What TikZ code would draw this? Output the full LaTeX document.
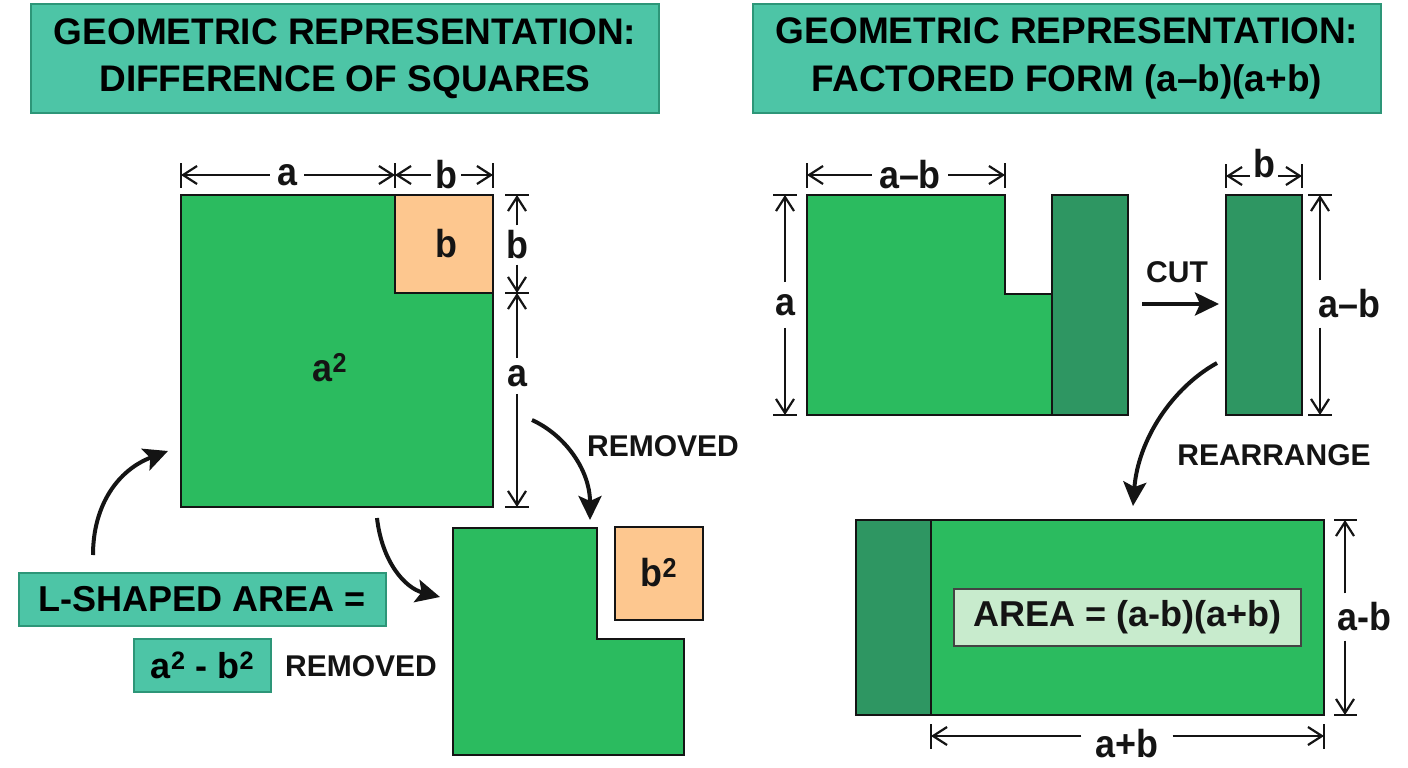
\documentclass[tikz,border=0pt]{standalone}
\usepackage{fontspec}
\setmainfont{Liberation Sans}
\newfontfamily\lblfont[FakeStretch=0.92]{Liberation Sans}
\usetikzlibrary{arrows.meta}
\definecolor{tealbox}{RGB}{77,197,166}
\definecolor{tealdark}{RGB}{45,150,120}
\definecolor{grn}{RGB}{43,187,95}
\definecolor{dgrn}{RGB}{46,150,98}
\definecolor{orng}{RGB}{253,199,143}
\definecolor{lgrn}{RGB}{200,235,205}
\definecolor{ink}{RGB}{20,20,20}
\begin{document}
\begin{tikzpicture}[x=1pt,y=-1pt,
  title/.style={draw=tealdark, line width=1.5pt, fill=tealbox, minimum width=628pt, minimum height=109pt,
    align=center, font=\fontsize{37}{47.5}\selectfont\bfseries, inner sep=0pt},
  lbl/.style={font=\lblfont\fontsize{39}{39}\selectfont\bfseries, inner sep=0pt, text=ink},
  mlbl/.style={font=\fontsize{30}{30}\selectfont\bfseries, inner sep=0pt, text=ink},
  tbox/.style={draw=tealdark, line width=1.2pt, fill=tealbox, font=\fontsize{36}{36}\selectfont\bfseries, inner sep=0pt},
  shp/.style={draw=ink, line width=1.8pt, line join=miter},
  dim/.style={draw=ink, line width=2.2pt, shorten <=7pt, -{Straight Barb[length=14pt,width=18pt,line width=2.2pt]}},
  tick/.style={draw=ink, line width=2pt},
  bigarrow/.style={draw=ink, line width=4pt, -{Stealth[length=24pt,width=23pt,inset=5pt]}}
]
\useasboundingbox (0,0) rectangle (1408,768);

% titles
\node[title] (T1) at (345,58.5) {GEOMETRIC REPRESENTATION:\\DIFFERENCE OF SQUARES};
\node[title] (T2) at (1067,58.5) {GEOMETRIC REPRESENTATION:\\FACTORED FORM (a–b)(a+b)};

% ---------- left: big square ----------
\draw[shp, fill=grn] (181,195) rectangle (493,507);
\draw[shp, fill=orng] (395,195) rectangle (493,293);
\node[lbl] (sqb) at (446,244) {b};
\node[lbl] (sqa) at (330,368) {a\textsuperscript{2}};

% top dimension
\coordinate (t1) at (181,175);
\coordinate (t2) at (395,175);
\coordinate (t3) at (493,175);
\draw[tick] (181,163) -- (181,188);
\draw[tick] (395,163) -- (395,188);
\draw[tick] (493,163) -- (493,188);
\node[lbl] (da) at (287,175) {a};
\node[lbl] (db) at (446,175) {b};
\draw[dim] (da) -- (t1);
\draw[dim] (da) -- (t2);
\draw[dim,shorten <=4pt] (db) -- (t2);
\draw[dim,shorten <=4pt] (db) -- (t3);

% right dimension
\coordinate (r1) at (517,195);
\coordinate (r2) at (517,293);
\coordinate (r3) at (517,507);
\draw[tick] (505,195) -- (529,195);
\draw[tick] (505,293) -- (529,293);
\draw[tick] (505,507) -- (529,507);
\node[lbl] (rb) at (517,245) {b};
\node[lbl] (ra) at (517,376) {a};
\draw[dim,shorten <=5pt] (rb) -- (r1);
\draw[dim,shorten <=5pt] (rb) -- (r2);
\draw[dim] (ra) -- (r2);
\draw[dim] (ra) -- (r3);

% removed arrow
\coordinate (p1) at (532,420);
\coordinate (p2) at (590,520);
\draw[bigarrow] (p1) .. controls (565,435) and (590,470) .. (p2);
\node[mlbl] (rem1) at (663,446) {REMOVED};

% L shape and b^2
\draw[shp, fill=grn] (453,528) -- (597,528) -- (597,639) -- (684,639) -- (684,755) -- (453,755) -- cycle;
\coordinate (Lw) at (440,597);
\draw[shp, fill=orng] (615,527) rectangle (703,620);
\node[lbl] (b2) at (659,573) {b\textsuperscript{2}};

% arrows around
\coordinate (q1) at (93,555);
\coordinate (q2) at (168,451);
\draw[bigarrow] (q1) .. controls (93,505) and (118,470) .. (q2);
\coordinate (s1) at (377,518);
\draw[bigarrow] (s1) .. controls (382,562) and (405,588) .. (Lw);

% text boxes
\node[tbox, minimum width=367pt, minimum height=53pt] (Lbox) at (202.5,599.5) {L-SHAPED AREA =};
\node[tbox, minimum width=137pt, minimum height=53pt] (abbox) at (202.5,665.5) {a\textsuperscript{2} - b\textsuperscript{2}};
\node[mlbl] (rem2) at (361,666) {REMOVED};

% ---------- right: top shape ----------
\draw[shp, fill=grn] (807,195) -- (1005,195) -- (1005,294) -- (1052,294) -- (1052,415) -- (807,415) -- cycle;
\draw[shp, fill=dgrn] (1052,195) rectangle (1128,415);

% top a-b dimension
\coordinate (u1) at (807,175);
\coordinate (u2) at (1005,175);
\draw[tick] (807,163) -- (807,188);
\draw[tick] (1005,163) -- (1005,188);
\node[lbl] (dab) at (910,175) {a–b};
\draw[dim] (dab) -- (u1);
\draw[dim] (dab) -- (u2);

% left a dimension
\coordinate (v1) at (785,195);
\coordinate (v2) at (785,415);
\draw[tick] (773,195) -- (797,195);
\draw[tick] (773,415) -- (797,415);
\node[lbl] (dla) at (785,305) {a};
\draw[dim,shorten <=12pt] (dla) -- (v1);
\draw[dim,shorten <=12pt] (dla) -- (v2);

% cut
\draw[shp, fill=dgrn] (1226,195) rectangle (1302,415);
\coordinate (c1) at (1142,304);
\coordinate (c2) at (1219,304);
\draw[bigarrow] (c1) -- (c2);
\node[mlbl] (cut) at (1177,272) {CUT};

% small b dimension
\coordinate (w1) at (1226,176);
\coordinate (w2) at (1302,176);
\draw[tick] (1226,164) -- (1226,188);
\draw[tick] (1302,164) -- (1302,188);
\node[lbl] (dsb) at (1264,164) {b};
\draw[dim,shorten <=3pt] (dsb.west |- w1) -- (w1);
\draw[dim,shorten <=3pt] (dsb.east |- w1) -- (w2);

% right a-b dimension
\coordinate (x1) at (1320,195);
\coordinate (x2) at (1320,415);
\draw[tick] (1308,195) -- (1332,195);
\draw[tick] (1308,415) -- (1332,415);
\node[lbl] (drab) at (1349,304) {a–b};
\draw[dim,shorten <=9pt] (drab.north -| x1) -- (x1);
\draw[dim,shorten <=9pt] (drab.south -| x1) -- (x2);

% rearrange
\coordinate (y1) at (1217,363);
\coordinate (y2) at (1133,506);
\draw[bigarrow] (y1) .. controls (1172,388) and (1138,440) .. (y2);
\node[mlbl] (rea) at (1274,455) {REARRANGE};

% bottom rectangle
\draw[shp, fill=grn] (856,520) rectangle (1324,715);
\draw[shp, fill=dgrn] (856,520) rectangle (931,715);
\node[draw=ink!80, line width=1.5pt, fill=lgrn, minimum width=347pt, minimum height=57pt, inner sep=0pt,
  font=\fontsize{36}{36}\selectfont\bfseries, text=ink] (area) at (1127.5,617.5) {AREA = (a-b)(a+b)};

% right a-b
\coordinate (z1) at (1345,520);
\coordinate (z2) at (1345,715);
\draw[tick] (1334,520) -- (1357,520);
\draw[tick] (1334,715) -- (1357,715);
\node[lbl] (dzab) at (1364,617) {a-b};
\draw[dim,shorten <=9pt] (dzab.north -| z1) -- (z1);
\draw[dim,shorten <=9pt] (dzab.south -| z1) -- (z2);

% bottom a+b
\coordinate (k1) at (931,736);
\coordinate (k2) at (1324,736);
\draw[tick] (931,724) -- (931,749);
\draw[tick] (1324,724) -- (1324,749);
\node[lbl] (dapb) at (1127,744) {a+b};
\draw[dim,shorten <=14pt] (dapb.west |- k1) -- (k1);
\draw[dim,shorten <=14pt] (dapb.east |- k1) -- (k2);
\end{tikzpicture}
\end{document}
